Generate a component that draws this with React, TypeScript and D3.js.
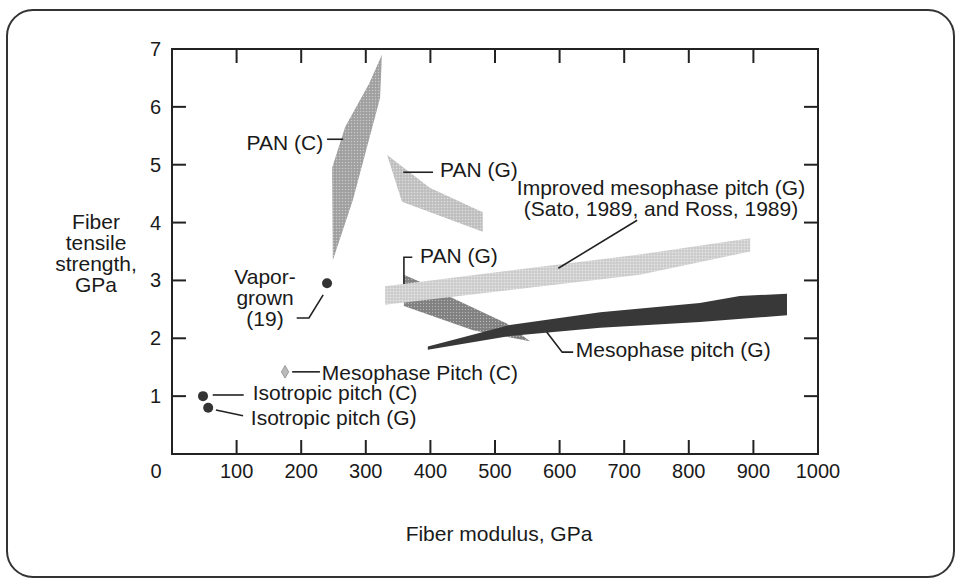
import React from "react";
import * as d3 from "d3";

// ---- data (Fiber modulus GPa, Fiber tensile strength GPa) ----
const xTicks = [0, 100, 200, 300, 400, 500, 600, 700, 800, 900, 1000];
const yTicks = [1, 2, 3, 4, 5, 6, 7];

const panC: [number, number][] = [
  [325, 6.9], [305, 6.4], [268, 5.65], [248, 4.95], [248, 4.78], [249, 3.35],
  [280, 4.39], [322, 6.15],
];
const panGUpper: [number, number][] = [
  [333, 5.17], [399, 4.6], [481, 4.18], [481, 3.84], [356, 4.36],
];
const panGLower: [number, number][] = [
  [359, 3.1], [395, 2.92], [430, 2.72], [519, 2.25], [554, 1.95],
  [466, 2.14], [359, 2.56],
];
const improvedMeso: [number, number][] = [
  [330, 2.9], [724, 3.45], [895, 3.73], [895, 3.5], [724, 3.1], [330, 2.58],
];
const mesoG: [number, number][] = [
  [396, 1.86], [523, 2.23], [663, 2.45], [817, 2.61], [879, 2.73], [952, 2.77],
  [952, 2.4], [817, 2.28], [663, 2.18], [523, 2.04], [396, 1.8],
];
const dotPoints: [number, number][] = [
  [240, 2.95], // vapor-grown
  [48, 1.0], // isotropic pitch (C)
  [56, 0.8], // isotropic pitch (G)
];
const mesoCPoint: [number, number] = [175, 1.42];

export default function App() {
  const W = 958, H = 581;
  const x = d3.scaleLinear().domain([0, 1000]).range([172, 818]);
  const y = d3.scaleLinear().domain([0, 7]).range([454, 49]);
  const area = d3
    .line<[number, number]>()
    .x((d) => x(d[0]))
    .y((d) => y(d[1]))
    .curve(d3.curveLinearClosed);
  const path = d3
    .line<[number, number]>()
    .x((d) => x(d[0]))
    .y((d) => y(d[1]));
  const font = "'Liberation Sans', Arial, Helvetica, sans-serif";
  const tc = "#1a1a1a";
  const fs = 21;
  const fsT = 20;
  const tick = 14;
  const x0 = x(0), x1 = x(1000), y0 = y(0), y1 = y(7);

  const leader = (pts: [number, number][], key: string) => (
    <path key={key} d={path(pts) || ""} fill="none" stroke="#222" strokeWidth={1.6} />
  );

  return (
    <svg
      width={W}
      height={H}
      style={{ position: "absolute", left: 0, top: 0, background: "#fff" }}
      fontFamily={font}
    >
      <defs>
        <pattern id="stip" width="3" height="3" patternUnits="userSpaceOnUse">
          <rect x="0" y="0" width="1" height="1" fill="#fff" opacity="0.4" />
          <rect x="1.5" y="1.5" width="1" height="1" fill="#000" opacity="0.15" />
        </pattern>
      </defs>
      <rect x={0} y={0} width={W} height={H} fill="#fff" />
      {/* outer rounded frame */}
      <rect x={7} y={10} width={947} height={567} rx={26} ry={26} fill="none" stroke="#333" strokeWidth={2} />

      {/* shapes */}
      <path d={area(panC) || ""} fill="#a6a6a6" />
      <path d={area(panC) || ""} fill="url(#stip)" />
      <path d={area(panGUpper) || ""} fill="#c6c6c6" />
      <path d={area(panGUpper) || ""} fill="url(#stip)" />
      <path d={area(panGLower) || ""} fill="#858585" />
      <path d={area(panGLower) || ""} fill="url(#stip)" />
      <path d={area(improvedMeso) || ""} fill="#d4d4d4" />
      <path d={area(improvedMeso) || ""} fill="url(#stip)" />
      <path d={area(mesoG) || ""} fill="#383838" />

      {/* points */}
      {dotPoints.map((p, i) => (
        <circle key={i} cx={x(p[0])} cy={y(p[1])} r={5} fill="#333" />
      ))}
      <path
        d={d3.symbol(d3.symbolDiamond, 45)() || ""}
        transform={`translate(${x(mesoCPoint[0])},${y(mesoCPoint[1])})`}
        fill="#bbb"
        stroke="#999"
        strokeWidth={1}
      />

      {/* axes frame */}
      <rect x={x0} y={y1} width={x1 - x0} height={y0 - y1} fill="none" stroke="#222" strokeWidth={2} />
      {xTicks.slice(1, -1).map((t) => (
        <g key={"xt" + t}>
          <line x1={x(t)} x2={x(t)} y1={y0} y2={y0 - tick} stroke="#222" strokeWidth={2} />
          <line x1={x(t)} x2={x(t)} y1={y1} y2={y1 + tick} stroke="#222" strokeWidth={2} />
        </g>
      ))}
      {yTicks.slice(0, -1).map((t) => (
        <g key={"yt" + t}>
          <line x1={x0} x2={x0 + tick} y1={y(t)} y2={y(t)} stroke="#222" strokeWidth={2} />
          <line x1={x1} x2={x1 - tick} y1={y(t)} y2={y(t)} stroke="#222" strokeWidth={2} />
        </g>
      ))}
      {xTicks.map((t) => (
        <text
          key={"xl" + t}
          x={t === 0 ? x(t) - 16 : x(t)}
          y={478}
          textAnchor="middle"
          fontSize={fsT}
          fill={tc}
        >
          {t}
        </text>
      ))}
      {yTicks.map((t) => (
        <text key={"yl" + t} x={x0 - 11} y={y(t) + 7} textAnchor="end" fontSize={fsT} fill={tc}>
          {t}
        </text>
      ))}

      {/* axis titles */}
      <text x={499} y={541} textAnchor="middle" fontSize={fs} fill={tc}>
        Fiber modulus, GPa
      </text>
      {["Fiber", "tensile", "strength,", "GPa"].map((s, i) => (
        <text key={s} x={96} y={229 + i * 21} textAnchor="middle" fontSize={fs} fill={tc}>
          {s}
        </text>
      ))}

      {/* annotations */}
      <text x={x(234)} y={y(5.25)} textAnchor="end" fontSize={fs} fill={tc}>PAN (C)</text>
      {leader([[240, 5.44], [265, 5.44]], "l1")}

      <text x={x(415)} y={y(4.79)} fontSize={fs} fill={tc}>PAN (G)</text>
      {leader([[358, 4.87], [404, 4.87]], "l2")}

      <text x={x(757)} y={y(4.48)} textAnchor="middle" fontSize={fs} fill={tc}>Improved mesophase pitch (G)</text>
      <text x={x(757)} y={y(4.11)} textAnchor="middle" fontSize={fs} fill={tc}>(Sato, 1989, and Ross, 1989)</text>
      {leader([[598, 3.21], [720, 4.04]], "l3")}

      <text x={x(384)} y={y(3.3)} fontSize={fs} fill={tc}>PAN (G)</text>
      {leader([[372, 3.4], [359, 3.4], [359, 2.94]], "l4")}

      <text x={x(144)} y={y(2.94)} textAnchor="middle" fontSize={fs} fill={tc}>Vapor-</text>
      <text x={x(144)} y={y(2.58)} textAnchor="middle" fontSize={fs} fill={tc}>grown</text>
      <text x={x(144)} y={y(2.22)} textAnchor="middle" fontSize={fs} fill={tc}>(19)</text>
      {leader([[193, 2.35], [212, 2.35], [234, 2.75]], "l5")}

      <text x={x(232)} y={y(1.28)} fontSize={fs} fill={tc}>Mesophase Pitch (C)</text>
      {leader([[186, 1.42], [229, 1.42]], "l6")}

      <text x={x(125)} y={y(0.93)} fontSize={fs} fill={tc}>Isotropic pitch (C)</text>
      {leader([[63, 1.02], [111, 1.02]], "l7")}

      <text x={x(122)} y={y(0.5)} fontSize={fs} fill={tc}>Isotropic pitch (G)</text>
      {leader([[68, 0.76], [110, 0.66]], "l8")}

      <text x={x(625)} y={y(1.68)} fontSize={fs} fill={tc}>Mesophase pitch (G)</text>
      {leader([[580, 2.11], [604, 1.76], [621, 1.76]], "l9")}
    </svg>
  );
}
